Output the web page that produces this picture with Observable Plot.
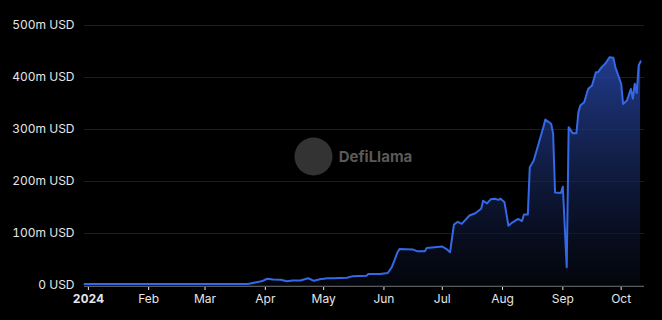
<!DOCTYPE html>
<html><head><meta charset="utf-8">
<script src="https://cdn.jsdelivr.net/npm/d3@7"></script>
<script src="https://cdn.jsdelivr.net/npm/@observablehq/plot@0.6"></script>
<style>
html,body{margin:0;padding:0;background:#000;}
#chart{width:662px;height:320px;overflow:hidden;}
</style></head><body><div id="chart"></div>
<script>
const dates = [
"2023-12-30","2024-01-20","2024-02-15","2024-03-10","2024-03-23","2024-03-30","2024-04-02","2024-04-05","2024-04-09","2024-04-12",
"2024-04-15","2024-04-19","2024-04-23","2024-04-26","2024-04-29","2024-05-03","2024-05-06","2024-05-13","2024-05-16","2024-05-23",
"2024-05-24","2024-05-30","2024-06-03","2024-06-05","2024-06-08","2024-06-09","2024-06-16","2024-06-18","2024-06-22","2024-06-23",
"2024-07-01","2024-07-03","2024-07-05","2024-07-07","2024-07-09","2024-07-11","2024-07-15","2024-07-18","2024-07-21","2024-07-22",
"2024-07-24","2024-07-26","2024-07-28","2024-07-30","2024-07-31","2024-08-02","2024-08-04","2024-08-06","2024-08-09","2024-08-11",
"2024-08-12","2024-08-14","2024-08-15","2024-08-17","2024-08-21","2024-08-22","2024-08-23","2024-08-26","2024-08-27","2024-08-28",
"2024-08-31","2024-09-01","2024-09-03","2024-09-04","2024-09-06","2024-09-08","2024-09-09","2024-09-10","2024-09-12","2024-09-14",
"2024-09-16","2024-09-18","2024-09-19","2024-09-21","2024-09-23","2024-09-25","2024-09-27","2024-09-28","2024-10-01","2024-10-02",
"2024-10-04","2024-10-06","2024-10-07","2024-10-08","2024-10-09","2024-10-10","2024-10-11"
];
const tvlMillions = [
3,3,3,3,3,8,13,11.5,11,8,
9.6,9.6,14,9,12,14,14,15,18,18.6,
22,22,24,35,64,70,69,66,66,72,
75,70.5,64,117,122.5,118.6,134.6,139,147.5,163,
158,166,166.7,164.7,167,160,115,121,128,124,
136.5,136.5,227.5,240,292,304.5,319,311,292,179,
178,190,35,304.5,293,293,333,346,352.5,378,
384.6,410,410,420,427.5,439,438,420,388,349,
356,378,359,388,370,423,431
];
const yTicks = [0,100,200,300,400,500];
const yTickLabels = ["0 USD","100m USD","200m USD","300m USD","400m USD","500m USD"];
const monthTicks = ["2024-01-01","2024-02-01","2024-03-01","2024-04-01","2024-05-01","2024-06-01","2024-07-01","2024-08-01","2024-09-01","2024-10-01"];
const monthLabels = ["2024","Feb","Mar","Apr","May","Jun","Jul","Aug","Sep","Oct"];
const xDomain = ["2023-12-30","2024-10-13"];
const watermark = "DefiLlama";

const parse = s => new Date(s + "T00:00:00Z");
const data = dates.map((d, i) => ({date: parse(d), value: tvlMillions[i]}));
const tickDates = monthTicks.map(parse);

const chart = Plot.plot({
  width: 662, height: 320,
  marginLeft: 84, marginRight: 18, marginTop: 25, marginBottom: 35,
  style: {background: "#000", color: "#e6e6e6", fontFamily: "Inter, 'Open Sans', sans-serif", fontSize: "12px"},
  x: {type: "utc", domain: xDomain.map(parse), ticks: tickDates,
      tickFormat: d => monthLabels[tickDates.findIndex(t => +t === +d)],
      tickSize: 5, tickPadding: 4, label: null},
  y: {domain: [0, 500], ticks: yTicks,
      tickFormat: d => yTickLabels[yTicks.indexOf(d)],
      tickSize: 0, tickPadding: 10, label: null},
  marks: [
    Plot.ruleY(yTicks, {stroke: "#1c1c1c"}),
    Plot.dot([0], {frameAnchor: "middle", dx: -51, dy: 1, r: 19, fill: "#333"}),
    Plot.text([watermark], {frameAnchor: "middle", dx: 11, dy: 2, fill: "#595959", fontSize: 15, fontWeight: "bold", text: d => d}),
    Plot.areaY(data, {x: "date", y: "value", fill: "url(#tvlGrad)"}),
    Plot.lineY(data, {x: "date", y: "value", stroke: "#3468e8", strokeWidth: 2}),
    Plot.ruleY([0], {stroke: "#5a5a5a", dy: 1})
  ]
});

const svg = d3.select(chart);
const defs = svg.insert("defs", ":first-child");
const g = defs.append("linearGradient").attr("id", "tvlGrad").attr("x1", 0).attr("y1", 0).attr("x2", 0).attr("y2", 1);
g.append("stop").attr("offset", "0%").attr("stop-color", "#2746a6").attr("stop-opacity", 0.85);
g.append("stop").attr("offset", "100%").attr("stop-color", "#070b18").attr("stop-opacity", 0.5);
svg.selectAll("text").filter(function () { return this.textContent === "2024"; }).attr("font-weight", "bold");
document.getElementById("chart").appendChild(chart);
</script>
</body></html>
